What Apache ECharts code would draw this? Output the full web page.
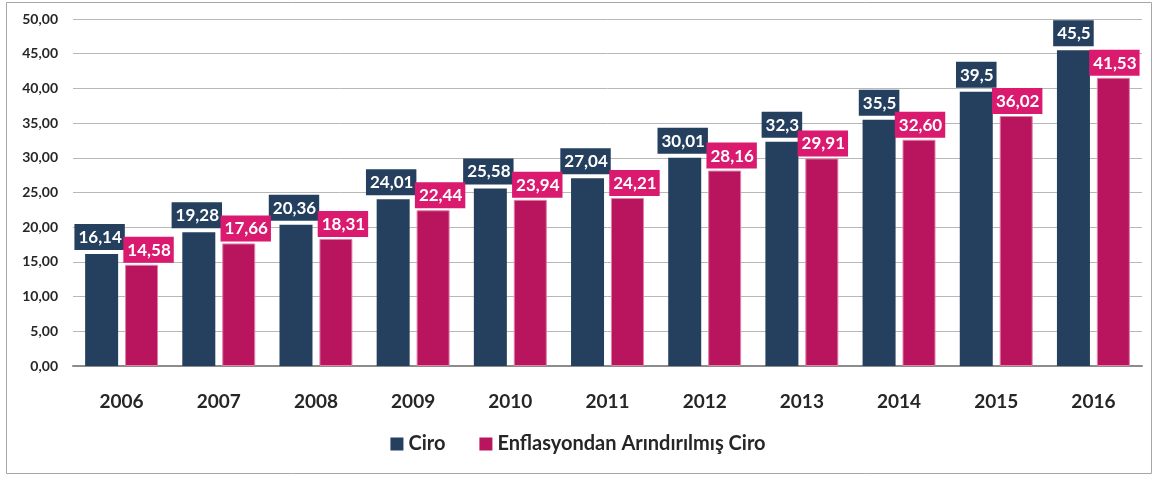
<!DOCTYPE html>
<html><head><meta charset="utf-8">
<script src="https://cdn.jsdelivr.net/npm/echarts@6/dist/echarts.min.js"></script>
<style>html,body{margin:0;padding:0;background:#fff}#c{width:1156px;height:477px}</style>
</head><body><div id="c"></div>
<script>
const years = ['2006','2007','2008','2009','2010','2011','2012','2013','2014','2015','2016'];
const ciro = [16.14,19.28,20.36,24.01,25.58,27.04,30.01,32.3,35.5,39.5,45.5];
const enflasyon = [14.58,17.66,18.31,22.44,23.94,24.21,28.16,29.91,32.60,36.02,41.53];
const seriesNames = ['Ciro','Enflasyondan Arındırılmış Ciro'];

const fmtCiro = v => String(v).replace('.',',');
const fmtEnf = v => v.toFixed(2).replace('.',',');
const chart = echarts.init(document.getElementById('c'));
const FONT = 'Lato';
const isLong = i => fmtCiro(ciro[i]).length>4;
const ciroData = ciro.map((v,i)=>({value:v,label:{offset:[isLong(i)?-2:0,0]}}));
const enfData = enflasyon.map((v,i)=>({value:v,label:{offset:[isLong(i)?7:1,0]}}));
chart.setOption({
  animation:false,
  graphic:[{type:'rect',shape:{x:6.5,y:2.5,width:1145,height:471},style:{fill:'none',stroke:'#A6A6A6',lineWidth:1}}],
  legend:{
    data:seriesNames, bottom:18, left:'center', itemWidth:13, itemHeight:13, itemGap:34,
    icon:'rect', itemStyle:{borderWidth:0},
    textStyle:{fontFamily:FONT,fontWeight:'bold',fontSize:20,color:'#262626'}
  },
  grid:{left:73,right:14,top:19,bottom:111},
  xAxis:{type:'category',data:years,
    axisLine:{lineStyle:{color:'#8C8C8C',width:2}},axisTick:{show:false},
    axisLabel:{fontFamily:FONT,fontWeight:'bold',fontSize:19,color:'#262626',margin:26}},
  yAxis:{type:'value',min:0,max:50,interval:5,
    axisLabel:{fontFamily:FONT,fontWeight:'bold',fontSize:14,color:'#262626',margin:15,
      formatter:v=>v.toFixed(2).replace('.',',')},
    splitLine:{lineStyle:{color:'#B8B8B8',width:1}},axisLine:{show:false},axisTick:{show:false}},
  series:[
    {name:seriesNames[0],type:'bar',data:ciroData,barWidth:33,barGap:'21%',
     itemStyle:{color:'#253F5F'},
     label:{show:true,position:'top',distance:4,formatter:p=>fmtCiro(p.value),
       backgroundColor:'#253F5F',color:'#fff',fontFamily:FONT,fontWeight:'bold',fontSize:17,
       padding:[5,3,4,4]}},
    {name:seriesNames[1],type:'bar',data:enfData,barWidth:33,
     itemStyle:{color:'#B8155E',borderColor:'#E27FA8',borderWidth:1},
     label:{show:true,position:'top',distance:2,formatter:p=>fmtEnf(p.value),
       backgroundColor:'#D91A6F',color:'#fff',fontFamily:FONT,fontWeight:'bold',fontSize:17,
       padding:[5,3,4,4]}}
  ]
});
</script></body></html>
